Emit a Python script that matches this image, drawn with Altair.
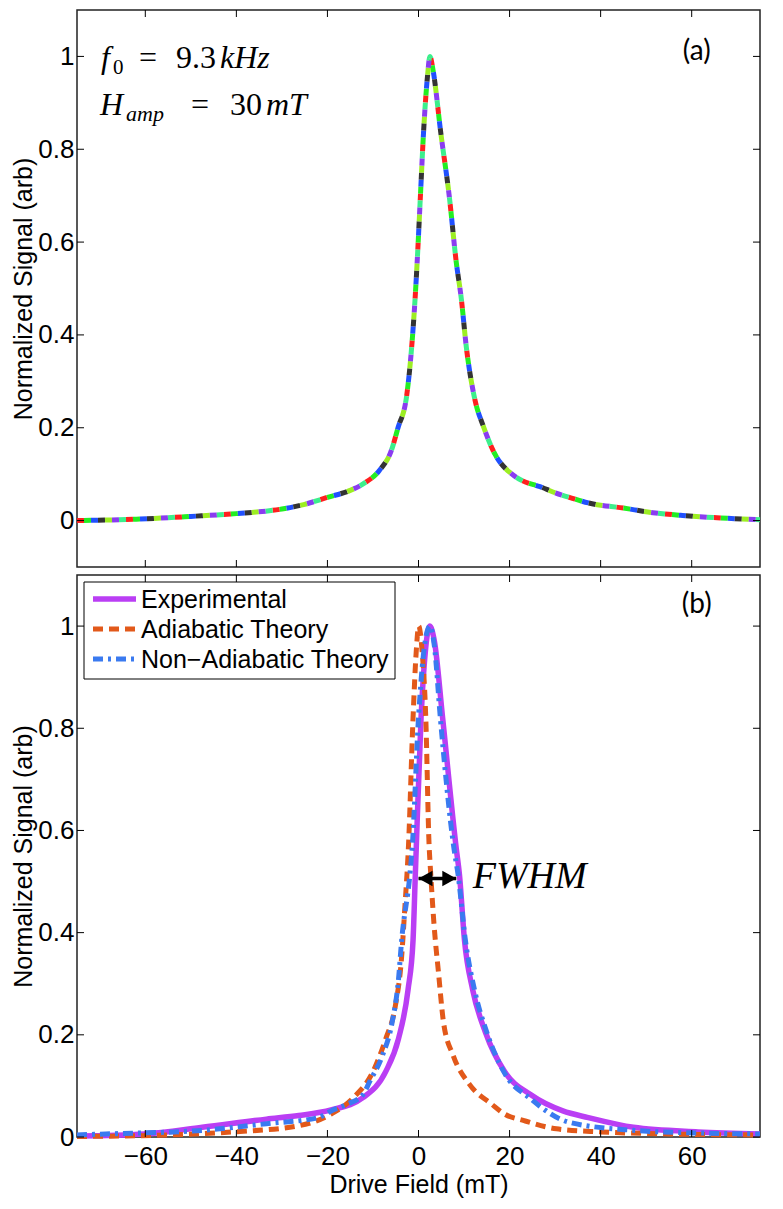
import altair as alt
import pandas as pd

# ---------------- data ----------------
# panel (a): single normalized signal (multicolour dashed)
a_x = [-75, -62, -50, -40, -30, -25, -20, -15, -12, -8.6, -6, -4.5, -2.6, -1.5, -0.8, -0.3,
       0.4, 1.1, 2.0, 2.5, 3.2, 4.9, 6.8, 8.3, 9.4, 10.5, 12.2, 14.4, 16.8, 20.4, 23, 26.7,
       30, 33.8, 37.3, 45, 51.5, 58, 65.6, 75]
a_y = [0.0, 0.003, 0.009, 0.015, 0.025, 0.035, 0.05, 0.065, 0.08, 0.108, 0.15, 0.2, 0.269,
       0.374, 0.47, 0.556, 0.695, 0.835, 0.96, 1.0, 0.97, 0.835, 0.695, 0.556, 0.478, 0.374,
       0.269, 0.199, 0.143, 0.101, 0.085, 0.073, 0.06, 0.048, 0.038, 0.027, 0.017, 0.011,
       0.006, 0.002]

# panel (b)
exp_x = [-75, -60.2, -47.5, -33.4, -26.3, -19.2, -12.2, -7.2, -4.4, -2.3, -1.2, -0.7, -0.5,
         0.56, 1.5, 2.5, 3.5, 5.3, 8.3, 9.0, 10.1, 11.9, 14.7, 18.9, 24.6, 31.7, 37.3, 47.2,
         61.4, 75]
exp_y = [0.002, 0.006, 0.019, 0.035, 0.042, 0.053, 0.077, 0.128, 0.192, 0.288, 0.385, 0.513,
         0.564, 0.82, 0.95, 1.0, 0.97, 0.82, 0.564, 0.513, 0.385, 0.288, 0.205, 0.128, 0.083,
         0.051, 0.038, 0.019, 0.010, 0.006]

adi_x = [-75, -54.6, -40.5, -26.3, -19.2, -14.3, -10, -7.2, -5.1, -3.7, -3.0, -2.2, -1.2,
         -0.5, 0.05, 0.8, 1.6, 2.3, 2.7, 3.4, 4.4, 5.5, 7.6, 11.2, 16.1, 18.9, 23.2, 30.3, 40,
         55, 75]
adi_y = [0.001, 0.004, 0.01, 0.022, 0.045, 0.077, 0.128, 0.192, 0.256, 0.353, 0.449, 0.57,
         0.82, 0.95, 1.0, 0.95, 0.82, 0.577, 0.513, 0.417, 0.321, 0.224, 0.160, 0.103, 0.064,
         0.045, 0.032, 0.016, 0.01, 0.006, 0.004]

non_x = [-75, -68.7, -47.5, -33.4, -22, -19.2, -15.7, -12.2, -10.7, -7.9, -5.8, -4.4, -3.7,
         -1.9, -1.4, 0, 1.3, 2.5, 3.5, 4.8, 7.8, 8.7, 10.3, 12.3, 15.0, 18.9, 24.6, 33, 47.2,
         61, 75]
non_y = [0.004, 0.006, 0.013, 0.026, 0.038, 0.051, 0.064, 0.083, 0.109, 0.16, 0.224, 0.308,
         0.385, 0.513, 0.564, 0.82, 0.96, 1.0, 0.96, 0.82, 0.564, 0.513, 0.385, 0.288, 0.205,
         0.125, 0.075, 0.029, 0.013, 0.008, 0.006]

series_names = ["Experimental", "Adiabatic Theory", "Non\u2212Adiabatic Theory"]
x_ticks = [-60, -40, -20, 0, 20, 40, 60]
y_ticks = [0, 0.2, 0.4, 0.6, 0.8, 1]
fwhm_x = [0, 8.3]
fwhm_y = 0.506

# ---------------- styling ----------------
W, H1, H2 = 683, 557, 562
SANS = "Liberation Sans"
SERIF = "Liberation Serif"
xsc = alt.Scale(domain=[-75, 75], nice=False, zero=False)
ysa = alt.Scale(domain=[-0.1, 1.1], nice=False, zero=False)
ysb = alt.Scale(domain=[0, 1.1], nice=False, zero=False)

rainbow = ["#ff1f1f", "#22ee22", "#2050ff", "#333333", "#9cee22", "#8a3cf0", "#3cef8c"]
c_exp, c_adi, c_non = "#ba3ef4", "#e2591a", "#3a7af0"

YAX = alt.Axis(values=y_ticks, format="~g", ticks=False, domain=False, grid=False,
               labelPadding=3, title="Normalized Signal (arb)", titlePadding=1,
               titleFontSize=25)
XAX_B = alt.Axis(values=x_ticks, ticks=False, domain=False, grid=False, labelPadding=6,
                 title="Drive Field (mT)", titlePadding=3, titleFontSize=25)


def X(field, panel):
    return alt.X(field, scale=xsc, axis=None if panel == "a" else XAX_B)


def Y(field, panel):
    return alt.Y(field, scale=ysa if panel == "a" else ysb, axis=YAX)


def tick_layers(panel, h):
    tx = pd.DataFrame({"t": x_ticks})
    ty = pd.DataFrame({"t": y_ticks})
    L = 7
    r = dict(color="black", strokeWidth=1)
    return [
        alt.Chart(tx).mark_rule(**r).encode(x=X("t:Q", panel), y=alt.value(0), y2=alt.value(L)),
        alt.Chart(tx).mark_rule(**r).encode(x=X("t:Q", panel), y=alt.value(h), y2=alt.value(h - L)),
        alt.Chart(ty).mark_rule(**r).encode(y=Y("t:Q", panel), x=alt.value(0), x2=alt.value(L)),
        alt.Chart(ty).mark_rule(**r).encode(y=Y("t:Q", panel), x=alt.value(W), x2=alt.value(W - L)),
    ]


def ptext(txt, px, py, size, font=SERIF, style="normal", align="left", baseline="alphabetic"):
    return alt.Chart(pd.DataFrame({"t": [txt]})).mark_text(
        font=font, fontSize=size, fontStyle=style, align=align, baseline=baseline,
        color="black").encode(x=alt.value(px), y=alt.value(py), text="t:N")


def dtext(txt, dx, dy, panel, size, font, style="normal", align="left", baseline="alphabetic"):
    return alt.Chart(pd.DataFrame({"t": [txt], "x": [dx], "y": [dy]})).mark_text(
        font=font, fontSize=size, fontStyle=style, align=align, baseline=baseline,
        color="black").encode(x=X("x:Q", panel), y=Y("y:Q", panel), text="t:N")


# ---------------- panel (a) ----------------
dfa = pd.DataFrame({"x": a_x, "y": a_y})
d = 7
top_layers = []
for k, c in enumerate(rainbow):
    top_layers.append(
        alt.Chart(dfa).mark_line(color=c, strokeWidth=5, strokeCap="butt", interpolate="monotone",
                                 strokeDash=[d, 6 * d], strokeDashOffset=((7 - k) * d) % (7 * d))
        .encode(x=X("x:Q", "a"), y=Y("y:Q", "a")))

top_layers += tick_layers("a", H1)
top_layers += [
    ptext("f", 24, 58, 32, style="italic"),
    ptext("0", 36, 64, 21),
    ptext("=", 62, 58, 32),
    ptext("9.3", 99, 58, 32),
    ptext("kHz", 143, 58, 32, style="italic"),
    ptext("H", 23, 105, 32, style="italic"),
    ptext("amp", 49, 111, 22, style="italic"),
    ptext("=", 114, 105, 32),
    ptext("30", 153, 105, 32),
    ptext("mT", 189, 105, 32, style="italic"),
    dtext("(a)", 61.1, 1.009, "a", 28, "Lato", align="center", baseline="middle"),
]
top = alt.layer(*top_layers).properties(width=W, height=H1)

# ---------------- panel (b) ----------------
dexp = pd.DataFrame({"x": exp_x, "y": exp_y})
dadi = pd.DataFrame({"x": adi_x, "y": adi_y})
dnon = pd.DataFrame({"x": non_x, "y": non_y})

bot_layers = [
    alt.Chart(dexp).mark_line(color=c_exp, strokeWidth=5.5, interpolate="monotone")
    .encode(x=X("x:Q", "b"), y=Y("y:Q", "b")),
    alt.Chart(dadi).mark_line(color=c_adi, strokeWidth=5, strokeDash=[10, 6], interpolate="monotone")
    .encode(x=X("x:Q", "b"), y=Y("y:Q", "b")),
    alt.Chart(dnon).mark_line(color=c_non, strokeWidth=5, strokeDash=[10, 5, 3, 5], interpolate="monotone")
    .encode(x=X("x:Q", "b"), y=Y("y:Q", "b")),
]

# FWHM arrow
darrow = pd.DataFrame({"x": [fwhm_x[0]], "x2": [fwhm_x[1]], "y": [fwhm_y]})
bot_layers.append(
    alt.Chart(darrow).mark_rule(color="black", strokeWidth=3.5)
    .encode(x=X("x:Q", "b"), x2="x2:Q", y=Y("y:Q", "b")))
dheads = pd.DataFrame({"x": fwhm_x, "y": [fwhm_y, fwhm_y], "side": ["l", "r"]})
bot_layers.append(
    alt.Chart(dheads).transform_filter("datum.side == 'l'").mark_point(
        shape="M0,0L2,-1.1L2,1.1Z", filled=True, color="black", size=196, opacity=1)
    .encode(x=X("x:Q", "b"), y=Y("y:Q", "b")))
bot_layers.append(
    alt.Chart(dheads).transform_filter("datum.side == 'r'").mark_point(
        shape="M0,0L-2,-1.1L-2,1.1Z", filled=True, color="black", size=196, opacity=1)
    .encode(x=X("x:Q", "b"), y=Y("y:Q", "b")))
bot_layers.append(dtext("FWHM", 11.9, 0.487, "b", 38, SERIF, style="italic"))
bot_layers.append(dtext("(b)", 61.1, 1.042, "b", 28, "Lato", align="center", baseline="middle"))
bot_layers += tick_layers("b", H2)

# legend (drawn by hand, MATLAB style)
bot_layers.append(
    alt.Chart(pd.DataFrame({"t": [0]})).mark_rect(fill="white", stroke="black", strokeWidth=1)
    .encode(x=alt.value(7), x2=alt.value(318), y=alt.value(7), y2=alt.value(104)))
leg_styles = [dict(color=c_exp, strokeWidth=5.5),
              dict(color=c_adi, strokeWidth=5, strokeDash=[10, 6]),
              dict(color=c_non, strokeWidth=5, strokeDash=[10, 5, 3, 5])]
for i, (name, st) in enumerate(zip(series_names, leg_styles)):
    yy = 24 + 30 * i
    bot_layers.append(
        alt.Chart(pd.DataFrame({"t": [name]})).mark_rule(**st)
        .encode(x=alt.value(16), x2=alt.value(59), y=alt.value(yy)))
    bot_layers.append(ptext(name, 64, yy + 1, 25, font=SANS, baseline="middle"))

bottom = alt.layer(*bot_layers).properties(width=W, height=H2)

chart = alt.vconcat(top, bottom, spacing=4).resolve_scale(y="independent").properties(
    padding={"left": 3, "top": 0, "right": 0, "bottom": 0}
).configure_view(stroke="#222222", strokeWidth=1.5).configure_axis(
    labelFont=SANS, titleFont=SANS, labelFontSize=26, titleFontSize=26,
    labelColor="black", titleColor="black", titleFontWeight="normal")

chart.save("out.html", embed_options={"renderer": "svg", "actions": False})
